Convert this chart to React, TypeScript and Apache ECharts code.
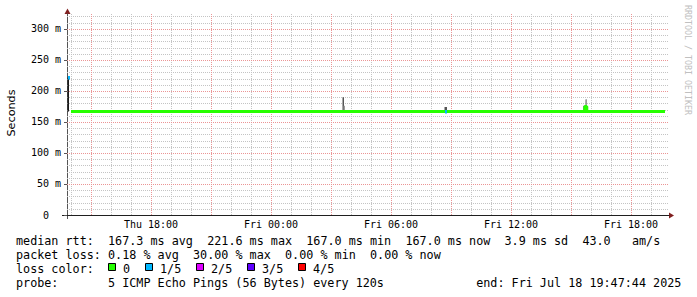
import React, { useEffect, useRef } from "react";
import * as echarts from "echarts";

// x values are hours counted from Thu 00:00
const xMinHours = 13.8;
const xMaxHours = 43.9;
const yMaxMs = 324;

const xLabelHours = [18, 24, 30, 36, 42];
const xLabelTexts = ["Thu 18:00", "Fri 00:00", "Fri 06:00", "Fri 12:00", "Fri 18:00"];
const minorGridHours = [14, 16, 17, 19, 20, 22, 23, 25, 26, 28, 29, 31, 32, 34, 35, 37, 38, 40, 41, 43];
const majorGridHours = [15, 18, 21, 24, 27, 30, 33, 36, 39, 42];
const minorGridMs = [10, 20, 30, 40, 60, 70, 80, 90, 110, 120, 130, 140, 160, 170, 180, 190, 210, 220, 230, 240, 260, 270, 280, 290, 310, 320];
const majorGridMs = [50, 100, 150, 200, 250, 300];

// median rtt (ms), loss 0
const medianHours = [14.0, 39.69, 39.69, 39.79, 39.79, 43.7];
const medianValues = [167.0, 167.0, 175.0, 175.0, 167.0, 167.0];

// median points with 1/5 loss
const lossHours = [13.88, 32.75];
const lossValues = [221.6, 167.0];

// smoke (ping spread) in ms
const smokeHours = [13.86, 27.62, 27.67, 32.72, 32.77, 39.66, 39.73, 39.77];
const smokeLow = [167, 167, 167, 167, 167, 167, 176, 176];
const smokeHigh = [221.6, 190, 176, 174, 174, 176, 186, 186];
const smokeShade = [0, 1, 2, 1, 1, 0, 2, 2];

const lossLabels = ["0", "1/5", "2/5", "3/5", "4/5"];
const lossColors = ["#26ff00", "#00b8ff", "#dd00ff", "#5e00ff", "#ff0000"];

const statsRtt = ["median rtt:", "167.3 ms avg", "221.6 ms max", "167.0 ms min", "167.0 ms now", "3.9 ms sd", "43.0", "am/s"];
const statsRttCols = [0, 13, 27, 41, 55, 69, 80, 87];
const statsLoss = ["packet loss:", "0.18 % avg", "30.00 % max", "0.00 % min", "0.00 % now"];
const statsLossCols = [0, 13, 25, 38, 50];
const probeTexts = ["probe:", "5 ICMP Echo Pings (56 Bytes) every 120s", "end: Fri Jul 18 19:47:44 2025"];
const probeCols = [0, 13, 65];

const MONO = "'DejaVu Sans Mono', monospace";
const SHADES = ["#1a1a1a", "#555555", "#9a9a9a"];
const MINOR = "#c4c4c4";
const MAJOR = "#eb9595";
const ARROW = "#801f1f";

export default function App() {
  const ref = useRef<HTMLDivElement>(null);
  useEffect(() => {
    if (!ref.current) return;
    const chart = echarts.init(ref.current, null, { renderer: "svg" });
    const charW = 7.08;
    const textX = (c: number) => 16 + c * charW;
    const rows = [241, 255, 269, 283];
    const txt = (text: string, x: number, y: number, extra: any = {}) => ({
      type: "text",
      x,
      y,
      silent: true,
      style: { text, fontFamily: MONO, fontSize: 11.76, fill: "#000", align: "left", verticalAlign: "middle", ...extra },
    });
    const graphics: any[] = [];
    statsRtt.forEach((t, i) => graphics.push(txt(t, textX(statsRttCols[i]), rows[0])));
    statsLoss.forEach((t, i) => graphics.push(txt(t, textX(statsLossCols[i]), rows[1])));
    graphics.push(txt("loss color:", textX(0), rows[2]));
    const boxX = [108.5, 145.5, 196.5, 247.5, 298.5];
    lossLabels.forEach((l, i) => {
      graphics.push({
        type: "rect",
        silent: true,
        shape: { x: boxX[i], y: 263.5, width: 7, height: 7 },
        style: { fill: lossColors[i], stroke: "#000", lineWidth: 1 },
      });
      graphics.push(txt(l, boxX[i] + 14.5, rows[2]));
    });
    probeTexts.forEach((t, i) => graphics.push(txt(t, textX(probeCols[i]), rows[3])));
    graphics.push({
      type: "text",
      x: 11,
      y: 113,
      rotation: Math.PI / 2,
      silent: true,
      style: { text: "Seconds", fontFamily: "'DejaVu Sans', sans-serif", fontSize: 11.2, fill: "#000", align: "center", verticalAlign: "middle" },
    });
    graphics.push({
      type: "text",
      x: 688,
      y: 5,
      rotation: -Math.PI / 2,
      silent: true,
      style: { text: "RRDTOOL / TOBI OETIKER", fontFamily: MONO, fontSize: 8.3, fill: "#c0c0c0", align: "left", verticalAlign: "middle" },
    });
    // axis extensions and arrows
    graphics.push({ type: "line", silent: true, shape: { x1: 62, y1: 215.5, x2: 67, y2: 215.5 }, style: { stroke: "#1f1f1f", lineWidth: 1 } });
    graphics.push({ type: "line", silent: true, shape: { x1: 67.5, y1: 215, x2: 67.5, y2: 219 }, style: { stroke: "#555", lineWidth: 1 } });
    graphics.push({ type: "polygon", silent: true, shape: { points: [[64.5, 14], [70.5, 14], [67.5, 8.5]] }, style: { fill: ARROW } });
    graphics.push({ type: "polygon", silent: true, shape: { points: [[669, 212.5], [669, 218.5], [674, 215.5]] }, style: { fill: ARROW } });

    const vGrid = (hours: number[], color: string, z: number) => ({
      type: "custom",
      silent: true,
      z,
      data: hours.map((h) => [h, 0]),
      renderItem: (_p: any, api: any) => {
        const h = api.value(0);
        const top = api.coord([h, yMaxMs]);
        const bot = api.coord([h, 0]);
        const x = Math.round(top[0]) + 0.5;
        return {
          type: "line",
          shape: { x1: x, y1: top[1], x2: x, y2: bot[1] },
          style: { stroke: color, lineWidth: 1, lineDash: [1, 1], fill: null },
        };
      },
    });
    const hGrid = (values: number[], color: string, z: number) => ({
      type: "custom",
      silent: true,
      z,
      data: values.map((v) => [xMinHours, v]),
      renderItem: (_p: any, api: any) => {
        const v = api.value(1);
        const l = api.coord([xMinHours, v]);
        const r = api.coord([xMaxHours, v]);
        const y = Math.round(l[1]) + 0.5;
        return {
          type: "line",
          shape: { x1: l[0], y1: y, x2: r[0], y2: y },
          style: { stroke: color, lineWidth: 1, lineDash: [1, 1], fill: null },
        };
      },
    });

    chart.setOption({
      animation: false,
      backgroundColor: "#ffffff",
      grid: { left: 67, right: 28, top: 14, bottom: 82 },
      xAxis: {
        type: "value",
        min: xMinHours,
        max: xMaxHours,
        splitLine: { show: false },
        axisTick: { show: false },
        axisLine: { show: true, lineStyle: { color: "#1f1f1f", width: 1 } },
        axisLabel: {
          customValues: xLabelHours,
          formatter: (v: number) => {
            const i = xLabelHours.findIndex((h) => Math.abs(h - v) < 1e-6);
            return i >= 0 ? xLabelTexts[i] : "";
          },
          fontFamily: MONO,
          fontSize: 10,
          color: "#000",
          margin: 4,
        },
      },
      yAxis: {
        type: "value",
        min: 0,
        max: yMaxMs,
        interval: 50,
        axisLine: { show: true, lineStyle: { color: "#555", width: 1 } },
        axisTick: { show: true, length: 3, lineStyle: { color: "#555" } },
        splitLine: { show: false },
        axisLabel: {
          showMaxLabel: false,
          fontFamily: MONO,
          fontSize: 10,
          color: "#000",
          margin: 6,
          formatter: (v: number) => (v === 0 ? "{z|0}" : v + " m"),
          rich: { z: { fontFamily: MONO, fontSize: 10, color: "#000", padding: [0, 12, 0, 0] } },
        },
      },
      graphic: graphics,
      series: [
        vGrid(minorGridHours, MINOR, 1),
        hGrid(minorGridMs, MINOR, 1),
        vGrid(majorGridHours, MAJOR, 2),
        hGrid(majorGridMs, MAJOR, 2),
        {
          type: "custom",
          silent: true,
          z: 3,
          data: smokeHours.map((h, i) => [h, smokeLow[i], smokeHigh[i], smokeShade[i]]),
          renderItem: (_p: any, api: any) => {
            const h = api.value(0);
            const lo = api.coord([h, api.value(1)]);
            const hi = api.coord([h, api.value(2)]);
            return {
              type: "rect",
              shape: { x: Math.round(lo[0]) - 0.5, y: hi[1], width: 1.5, height: lo[1] - hi[1] },
              style: { fill: SHADES[api.value(3)] },
            };
          },
        },
        {
          type: "line",
          silent: true,
          z: 4,
          symbol: "none",
          data: medianHours.map((h, i) => [h, medianValues[i]]),
          lineStyle: { color: lossColors[0], width: 3 },
        },
        {
          type: "custom",
          silent: true,
          z: 5,
          data: lossHours.map((h, i) => [h, lossValues[i]]),
          renderItem: (_p: any, api: any) => {
            const p = api.coord([api.value(0), api.value(1)]);
            return {
              type: "rect",
              shape: { x: Math.round(p[0]) - 1, y: p[1] - 1.5, width: 2, height: 3.5 },
              style: { fill: lossColors[1] },
            };
          },
        },
      ],
    });
    return () => chart.dispose();
  }, []);
  return (
    <div
      ref={ref}
      style={{ position: "absolute", left: 0, top: 0, width: 697, height: 297, background: "#fff" }}
    />
  );
}
